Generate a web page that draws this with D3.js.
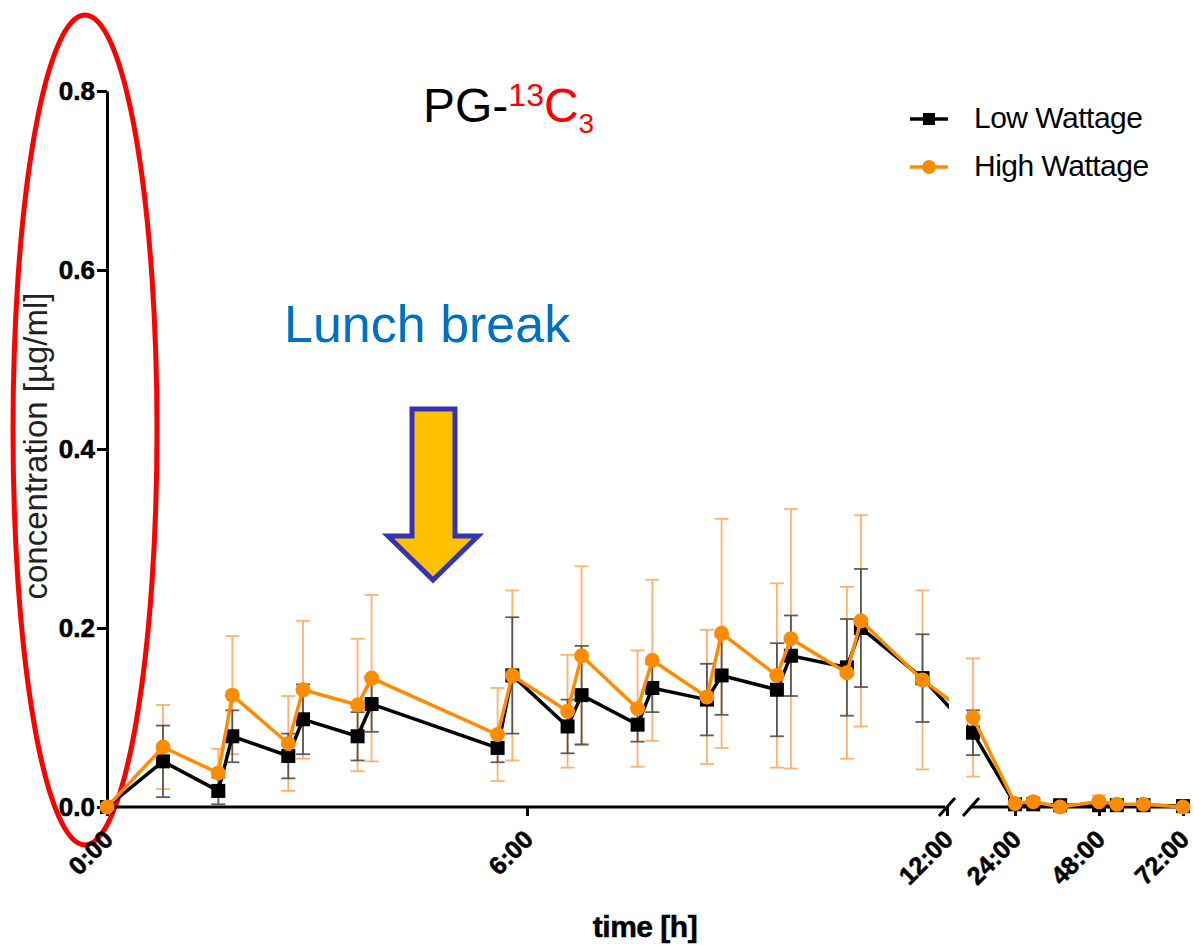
<!DOCTYPE html>
<html>
<head>
<meta charset="utf-8">
<script src="https://cdn.jsdelivr.net/npm/d3@7"></script>
<style>
  body { margin: 0; background: #fff; }
  text { font-family: Arial, "Liberation Sans", sans-serif; }
</style>
</head>
<body>
<svg width="1194" height="945"></svg>
<script>
// sampling times in hours
const times = [0, 0.8, 1.59, 1.79, 2.59, 2.8, 3.58, 3.78, 5.58, 5.79, 6.58, 6.78, 7.58, 7.79,
  8.57, 8.78, 9.57, 9.77, 10.57, 10.77, 11.65, 12, 24, 29.2, 36.9, 48, 53.1, 60.7, 72];

const lowMean = [0, 0.051, 0.018, 0.079, 0.057, 0.098, 0.079, 0.115, 0.066, 0.147, 0.09, 0.125, 0.092, 0.133,
  0.12, 0.147, 0.131, 0.169, 0.156, 0.2, 0.144, 0.083, 0.003, 0.003, 0.002, 0.002, 0.002, 0.002, 0.001];
const lowSd = [0, 0.04, 0.015, 0.029, 0.025, 0.039, 0.027, 0.031, 0.016, 0.065, 0.03, 0.055, 0.019, 0.027,
  0.04, 0.044, 0.052, 0.045, 0.054, 0.066, 0.049, 0.025, 0.002, 0.002, 0.002, 0.003, 0.002, 0.002, 0.001];

const highMean = [0, 0.067, 0.038, 0.125, 0.071, 0.131, 0.114, 0.144, 0.081, 0.147, 0.107, 0.169, 0.11, 0.164,
  0.123, 0.194, 0.147, 0.188, 0.15, 0.208, 0.142, 0.1, 0.004, 0.006, 0.0, 0.006, 0.003, 0.003, 0.0];
const highSd = [0, 0.047, 0.027, 0.066, 0.053, 0.077, 0.074, 0.093, 0.052, 0.095, 0.063, 0.1, 0.065, 0.09,
  0.075, 0.128, 0.103, 0.145, 0.096, 0.118, 0.1, 0.066, 0.002, 0.002, 0.001, 0.007, 0.002, 0.002, 0.001];

const yTicks = [0, 0.2, 0.4, 0.6, 0.8];
const xTicks1 = [0, 6, 12];
const xTicks2 = [24, 48, 72];
const xLabels = {0: '0:00', 6: '6:00', 12: '12:00', 24: '24:00', 48: '48:00', 72: '72:00'};

const seriesNames = ['Low Wattage', 'High Wattage'];
const black = '#000';
const orange = '#ff8c00';

const svg = d3.select('svg');

// scales: broken x axis (0-12h, then 12-72h)
const y = d3.scaleLinear().domain([0, 0.8]).range([807, 91]);
const x1 = d3.scaleLinear().domain([0, 12]).range([107, 947]);
const x2 = d3.scaleLinear().domain([12, 72]).range([973, 1183]);
const xs = t => t < 12 ? x1(t) : x2(t);

// clip for the lines so the gap at the break stays empty
const clip = svg.append('clipPath').attr('id', 'segs');
clip.append('rect').attr('x', 0).attr('y', 0).attr('width', 949).attr('height', 945);
clip.append('rect').attr('x', 967).attr('y', 0).attr('width', 227).attr('height', 945);

// red ellipse highlighting the y axis
svg.append('ellipse')
  .attr('cx', 85).attr('cy', 430).attr('rx', 72).attr('ry', 415)
  .attr('fill', 'none').attr('stroke', '#ff0000').attr('stroke-width', 5);

// y axis
const yAxis = svg.append('g')
  .attr('transform', 'translate(107,0)')
  .call(d3.axisLeft(y).tickValues(yTicks).tickFormat(d3.format('.1f')).tickSize(10).tickSizeOuter(0).tickPadding(2));
yAxis.select('.domain').attr('stroke-width', 3);
yAxis.selectAll('.tick line').attr('stroke-width', 3);
yAxis.selectAll('.tick text')
  .attr('font-size', 26).attr('font-weight', 'bold').attr('fill', '#000')
  .attr('stroke', '#000').attr('stroke-width', 0.6)
  .style('font-family', 'Arial, "Liberation Sans", sans-serif');

// x axis, two segments
function xAxisSeg(scale, ticks) {
  const g = svg.append('g')
    .attr('transform', 'translate(0,807)')
    .call(d3.axisBottom(scale).tickValues(ticks).tickFormat(d => xLabels[d]).tickSize(9).tickSizeOuter(0));
  g.select('.domain').remove();
  g.selectAll('.tick line').attr('stroke-width', 3);
  g.selectAll('.tick text')
    .attr('font-size', 25).attr('font-weight', 'bold').attr('fill', '#000')
    .attr('stroke', '#000').attr('stroke-width', 0.6)
    .style('font-family', 'Arial, "Liberation Sans", sans-serif')
    .attr('text-anchor', 'end')
    .attr('x', 0).attr('y', 0).attr('dy', 0)
    .attr('transform', 'translate(7,34) rotate(-45)');
  return g;
}
xAxisSeg(x1, xTicks1);
xAxisSeg(x2, xTicks2);

const axisLines = [[105.5, 945], [971, 1186]];
svg.selectAll('line.xdomain').data(axisLines).enter().append('line')
  .attr('class', 'xdomain')
  .attr('x1', d => d[0]).attr('x2', d => d[1])
  .attr('y1', 807).attr('y2', 807)
  .attr('stroke', '#000').attr('stroke-width', 3);

// break marks
svg.selectAll('line.brk').data([947, 971]).enter().append('line')
  .attr('class', 'brk')
  .attr('x1', d => d - 8).attr('y1', 816)
  .attr('x2', d => d + 8).attr('y2', 798)
  .attr('stroke', '#000').attr('stroke-width', 3);

// build rows
const rows = times.map((t, i) => ({t, low: lowMean[i], lowSd: lowSd[i], high: highMean[i], highSd: highSd[i]}));

function errorBars(key, sdKey, color, opacity) {
  const g = svg.append('g').attr('stroke', color).attr('stroke-width', 1.8).attr('opacity', opacity);
  rows.filter(d => d[sdKey] > 0.004).forEach(d => {
    const cx = xs(d.t);
    const hi = y(d[key] + d[sdKey]);
    const lo = y(Math.max(0, d[key] - d[sdKey]));
    g.append('line').attr('x1', cx).attr('x2', cx).attr('y1', hi).attr('y2', lo);
    g.append('line').attr('x1', cx - 7).attr('x2', cx + 7).attr('y1', hi).attr('y2', hi);
    g.append('line').attr('x1', cx - 7).attr('x2', cx + 7).attr('y1', lo).attr('y2', lo);
  });
}
errorBars('high', 'highSd', '#ffaa5c', 0.9);
errorBars('low', 'lowSd', '#444', 0.85);

// lines
const lowLine = d3.line().x(d => xs(d.t)).y(d => y(d.low));
const highLine = d3.line().x(d => xs(d.t)).y(d => y(d.high));

svg.append('path').datum(rows).attr('d', lowLine)
  .attr('fill', 'none').attr('stroke', black).attr('stroke-width', 3.5)
  .attr('clip-path', 'url(#segs)');

svg.selectAll('rect.low').data(rows).enter().append('rect')
  .attr('class', 'low')
  .attr('x', d => xs(d.t) - 7).attr('y', d => y(d.low) - 7)
  .attr('width', 14).attr('height', 14).attr('fill', black);

svg.append('path').datum(rows).attr('d', highLine)
  .attr('fill', 'none').attr('stroke', orange).attr('stroke-width', 3.5)
  .attr('clip-path', 'url(#segs)');

svg.selectAll('circle.high').data(rows).enter().append('circle')
  .attr('class', 'high')
  .attr('cx', d => xs(d.t)).attr('cy', d => y(d.high))
  .attr('r', 7.5).attr('fill', orange);

// axis titles
svg.append('text')
  .attr('transform', 'translate(47,446) rotate(-90)')
  .attr('text-anchor', 'middle')
  .attr('font-size', 33).attr('fill', '#222')
  .text('concentration [µg/ml]');

svg.append('text')
  .attr('x', 645).attr('y', 937)
  .attr('text-anchor', 'middle')
  .attr('font-size', 30).attr('font-weight', 'bold').attr('letter-spacing', -0.5)
  .attr('stroke', '#000').attr('stroke-width', 0.5)
  .text('time [h]');

// title PG-13C3
const title = svg.append('text').attr('x', 423).attr('y', 122).attr('font-size', 48);
title.append('tspan').attr('fill', '#000').text('PG-');
title.append('tspan').attr('fill', '#ff0000').attr('font-size', 32).attr('dy', -16).text('13');
title.append('tspan').attr('fill', '#ff0000').attr('dy', 16).text('C');
title.append('tspan').attr('fill', '#ff0000').attr('font-size', 28).attr('dy', 11).text('3');

// legend
const legend = svg.append('g');
const legY = [119, 167];
legend.selectAll('line.leg').data(seriesNames).enter().append('line')
  .attr('x1', 910).attr('x2', 948)
  .attr('y1', (d, i) => legY[i]).attr('y2', (d, i) => legY[i])
  .attr('stroke', (d, i) => i === 0 ? black : orange).attr('stroke-width', 3.5);
legend.append('rect').attr('x', 923).attr('y', legY[0] - 6).attr('width', 12).attr('height', 12).attr('fill', black);
legend.append('circle').attr('cx', 929).attr('cy', legY[1]).attr('r', 7).attr('fill', orange);
legend.selectAll('text').data(seriesNames).enter().append('text')
  .attr('x', 974).attr('y', (d, i) => legY[i] + 9)
  .attr('font-size', 30).attr('letter-spacing', -0.5)
  .text(d => d);

// annotation
svg.append('text')
  .attr('x', 284).attr('y', 342)
  .attr('font-size', 52).attr('fill', '#0070c0')
  .text('Lunch break');

svg.append('path')
  .attr('d', 'M412,409 L455,409 L455,536 L478,536 L433,580 L388,536 L412,536 Z')
  .attr('fill', '#ffc000').attr('stroke', '#3333b5').attr('stroke-width', 5)
  .attr('stroke-linejoin', 'miter');
</script>
</body>
</html>
